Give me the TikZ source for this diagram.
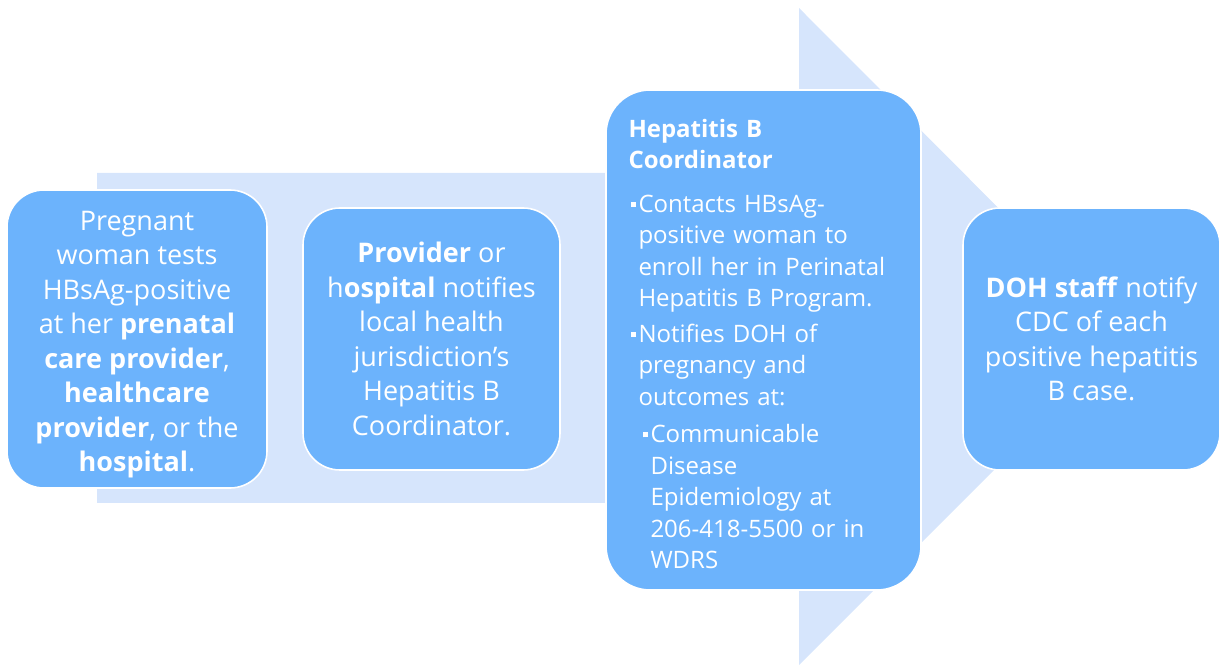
\documentclass[tikz,border=0pt]{standalone}
\usepackage{fontspec}
\setmainfont{Open Sans}

\definecolor{hepbox}{RGB}{108,179,252}
\definecolor{hepflow}{RGB}{214,229,252}
\def\BOXCOLOR{hepbox}
\def\FLOWCOLOR{hepflow}
\newcommand{\sqbul}{\makebox[5pt][l]{\hspace{1pt}\raisebox{2.6pt}{\rule{2.6pt}{2.6pt}}}}

\tikzset{
	stagebox/.style={draw=white, line width=0.8pt, fill=\BOXCOLOR, text=white,
		rounded corners=18.5pt, inner sep=0pt, align=center,
		font=\fontsize{13.5}{17.25}\selectfont},
	coordbox/.style={stagebox, rounded corners=22pt, align=left, text width=135pt,
		font=\fontsize{12}{15.75}\selectfont}
}

\begin{document}
\begin{tikzpicture}[x=0.5pt,y=-0.5pt]

	\useasboundingbox (0,0) rectangle (1225,667);

	% big arrow behind the stages
	\fill[\FLOWCOLOR] (97,173) -- (799,173) -- (799,8) -- (1127,337)
		-- (799,665) -- (799,503) -- (97,503) -- cycle;

	\node[stagebox, minimum width=130pt, minimum height=149pt] (test) at (137,339)
		{\rule{0pt}{15pt}Pregnant\\ woman tests\\ HBsAg-positive\\ at her \textbf{prenatal}\\
		\textbf{care provider},\\ \textbf{healthcare}\\ \textbf{provider}, or the\\
		\textbf{hospital}.};

	\node[stagebox, minimum width=128.5pt, minimum height=131pt] (notify) at (431.5,339)
		{\textbf{Provider} or\\ h\textbf{ospital} notifies\\ local health\\
		jurisdiction’s\\ Hepatitis B\\ Coordinator.};

	\node[coordbox, minimum width=157.5pt, minimum height=250pt] (coord) at (763.5,340)
		{\rule{0pt}{13pt}\textbf{Hepatitis B}\\ \textbf{Coordinator}\\[6pt]
		\sqbul Contacts HBsAg-\\ \hspace*{5pt}positive woman to\\
		\hspace*{5pt}enroll her in Perinatal\\ \hspace*{5pt}Hepatitis B Program.\\[2pt]
		\sqbul Notifies DOH of\\ \hspace*{5pt}pregnancy and\\ \hspace*{5pt}outcomes at:\\[3pt]
		\hspace*{6pt}\sqbul Communicable\\ \hspace*{11pt}Disease\\ \hspace*{11pt}Epidemiology at\\
		\hspace*{11pt}206-418-5500 or in\\ \hspace*{11pt}WDRS};

	\node[stagebox, minimum width=128.5pt, minimum height=131pt] (cdc) at (1091.5,339)
		{\textbf{DOH staff} notify\\ CDC of each\\ positive hepatitis\\ B case.};

\end{tikzpicture}
\end{document}
